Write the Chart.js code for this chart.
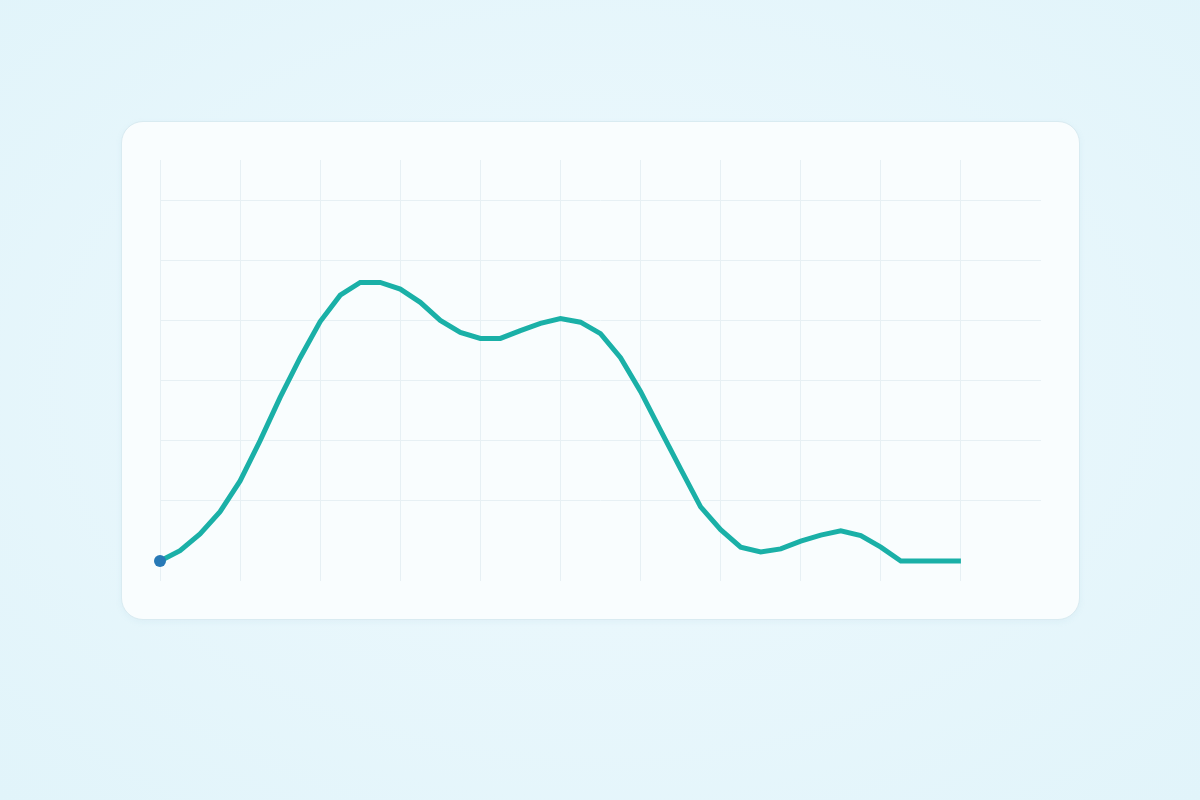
<!DOCTYPE html>
<html>
<head>
<meta charset="utf-8">
<title>Profile</title>
<script src="https://cdn.jsdelivr.net/npm/chart.js@4/dist/chart.umd.min.js"></script>
<style>
  html, body {
    margin: 0;
    width: 1200px;
    height: 800px;
    overflow: hidden;
    font-family: "Noto Sans", sans-serif;
    background: radial-gradient(ellipse at 50% 48%, #f0fafd 0%, #e9f7fc 40%, #e1f4fa 100%);
  }
  .card {
    position: absolute;
    left: 121px;
    top: 121px;
    width: 957px;
    height: 497px;
    background: #f9fdfe;
    border: 1px solid #d9ebf1;
    border-radius: 22px;
    box-shadow: 0 2px 6px rgba(120, 170, 190, 0.08);
  }
  .card canvas {
    position: absolute;
    left: 0;
    top: 0;
  }
</style>
</head>
<body>
<div class="card">
  <canvas id="myChart" width="957" height="497"></canvas>
</div>
<script>
// data, one point every quarter step
const xValues = [
  0, 0.25, 0.5, 0.75, 1, 1.25, 1.5, 1.75, 2, 2.25,
  2.5, 2.75, 3, 3.25, 3.5, 3.75, 4, 4.25, 4.5, 4.75,
  5, 5.25, 5.5, 5.75, 6, 6.25, 6.5, 6.75, 7, 7.25,
  7.5, 7.75, 8, 8.25, 8.5, 8.75, 9, 9.25, 9.5, 9.75, 10
];
const yValues = [
  0, 0.17, 0.45, 0.82, 1.33, 2.0, 2.72, 3.38, 3.98, 4.42,
  4.63, 4.63, 4.52, 4.3, 4.0, 3.8, 3.7, 3.7, 3.83, 3.95,
  4.03, 3.97, 3.78, 3.38, 2.82, 2.17, 1.53, 0.9, 0.52, 0.23,
  0.15, 0.2, 0.33, 0.43, 0.5, 0.42, 0.23, 0, 0, 0, 0
];
const xTicks = [0, 1, 2, 3, 4, 5, 6, 7, 8, 9, 10];
const yTicks = [1, 2, 3, 4, 5, 6];

const points = xValues.map((x, i) => ({ x: x, y: yValues[i] }));

const ctx = document.getElementById("myChart");

new Chart(ctx, {
  type: "line",
  data: {
    datasets: [{
      data: points,
      borderColor: "#1ab0a7",
      borderWidth: 5,
      tension: 0,
      fill: false,
      clip: false,
      pointRadius: points.map((p, i) => i === 0 ? 6 : 0),
      pointBackgroundColor: "#2879b6",
      pointBorderColor: "#2879b6",
      pointBorderWidth: 0
    }]
  },
  options: {
    responsive: false,
    animation: false,
    layout: {
      padding: { left: 38, right: 38, top: 38, bottom: 38 }
    },
    plugins: {
      legend: { display: false },
      tooltip: { enabled: false }
    },
    scales: {
      x: {
        type: "linear",
        min: 0,
        max: 11,
        afterBuildTicks: (scale) => {
          scale.ticks = xTicks.map(v => ({ value: v }));
        },
        ticks: { display: false },
        border: { display: false },
        grid: { color: "#e7f0f4", lineWidth: 1, drawTicks: false }
      },
      y: {
        type: "linear",
        min: -1 / 3,
        max: 20 / 3,
        afterBuildTicks: (scale) => {
          scale.ticks = yTicks.map(v => ({ value: v }));
        },
        ticks: { display: false },
        border: { display: false },
        grid: { color: "#e7f0f4", lineWidth: 1, drawTicks: false }
      }
    }
  }
});
</script>
</body>
</html>
